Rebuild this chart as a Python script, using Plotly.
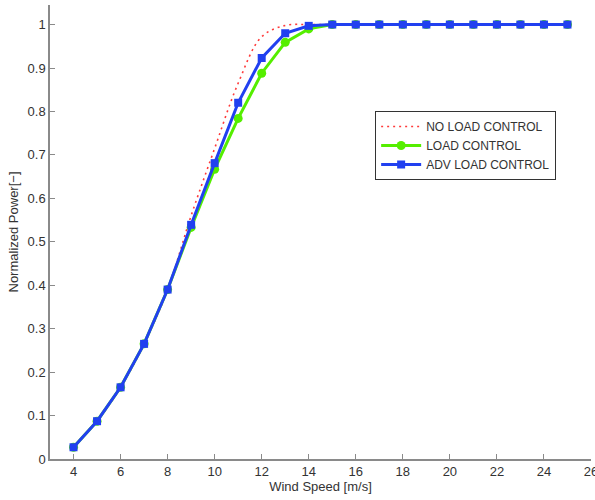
import plotly.graph_objects as go

wind_speed = [4, 5, 6, 7, 8, 9, 10, 11, 12, 13, 14, 15, 16, 17, 18, 19, 20, 21, 22, 23, 24, 25]
no_load_control = [0.027, 0.087, 0.165, 0.265, 0.39, 0.56, 0.715, 0.865, 0.972, 0.998, 1.0, 1.0, 1.0, 1.0, 1.0, 1.0, 1.0, 1.0, 1.0, 1.0, 1.0, 1.0]
load_control = [0.027, 0.087, 0.165, 0.265, 0.39, 0.533, 0.667, 0.784, 0.888, 0.959, 0.99, 1.0, 1.0, 1.0, 1.0, 1.0, 1.0, 1.0, 1.0, 1.0, 1.0, 1.0]
adv_load_control = [0.027, 0.087, 0.165, 0.265, 0.39, 0.539, 0.681, 0.82, 0.923, 0.98, 0.997, 1.0, 1.0, 1.0, 1.0, 1.0, 1.0, 1.0, 1.0, 1.0, 1.0, 1.0]

x_ticks = [4, 6, 8, 10, 12, 14, 16, 18, 20, 22, 24, 26]
y_ticks = [0, 0.1, 0.2, 0.3, 0.4, 0.5, 0.6, 0.7, 0.8, 0.9, 1]
y_tick_labels = ["0", "0.1", "0.2", "0.3", "0.4", "0.5", "0.6", "0.7", "0.8", "0.9", "1"]

font_family = "Liberation Sans, Arial, sans-serif"

fig = go.Figure()
fig.add_trace(go.Scatter(
    x=wind_speed, y=no_load_control, mode="lines", name="NO LOAD CONTROL",
    line=dict(color="#ff3a3a", width=1.6, dash="2px,4px", shape="spline", smoothing=1.0),
))
fig.add_trace(go.Scatter(
    x=wind_speed, y=load_control, mode="lines+markers", name="LOAD CONTROL",
    line=dict(color="#55ee00", width=3),
    marker=dict(symbol="circle", size=9, color="#55ee00"),
))
fig.add_trace(go.Scatter(
    x=wind_speed, y=adv_load_control, mode="lines+markers", name="ADV LOAD CONTROL",
    line=dict(color="#2140f0", width=3),
    marker=dict(symbol="square", size=8, color="#2140f0"),
))

fig.update_layout(
    width=595, height=500,
    margin=dict(l=50, r=4, t=5, b=41),
    paper_bgcolor="white", plot_bgcolor="white",
    font=dict(family=font_family, size=13, color="#333333"),
    showlegend=True,
    legend=dict(
        x=0.601, y=0.7665, xanchor="left", yanchor="top",
        bordercolor="#333333", borderwidth=1, bgcolor="white",
        font=dict(size=12, color="#333333"),
        tracegroupgap=0, itemwidth=40,
    ),
    xaxis=dict(
        range=[3, 26], tickvals=x_ticks, ticktext=[str(t) for t in x_ticks],
        showgrid=False, zeroline=False,
        showline=True, linecolor="#8a8a8a", linewidth=1.5,
        ticks="inside", ticklen=5, tickcolor="#8a8a8a",
        ticklabeloverflow="allow",
        title=dict(text="Wind Speed [m/s]", standoff=2, font=dict(size=13)),
        automargin=False,
    ),
    yaxis=dict(
        range=[0, 1.045], tickvals=y_ticks, ticktext=y_tick_labels,
        showgrid=False, zeroline=False,
        showline=True, linecolor="#8a8a8a", linewidth=1.5,
        ticks="inside", ticklen=5, tickcolor="#8a8a8a",
        ticklabeloverflow="allow",
        title=dict(text="Normalized Power[−]", standoff=6, font=dict(size=13)),
        automargin=False,
    ),
)

fig.write_html("out.html", config={"displayModeBar": False},
               post_script="document.body.style.margin='0px';")
